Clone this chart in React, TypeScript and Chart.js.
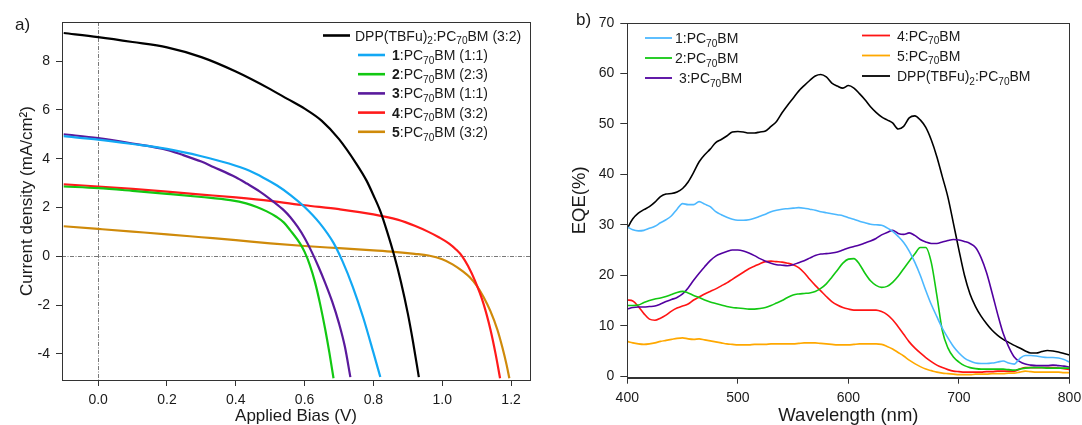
import React, { useEffect, useRef } from "react";
import { Chart, registerables } from "chart.js";

Chart.register(...registerables);

const FONT = '"Liberation Sans", Arial, Helvetica, sans-serif';
const INK = "#1a1a1a";
const FRAME = "#333333";

/* ---------- (a) current density vs applied bias ---------- */
const biasTicks = [0, 0.2, 0.4, 0.6, 0.8, 1.0, 1.2];
const currentTicks = [-4, -2, 0, 2, 4, 6, 8];

const dppBias = [-0.1, 0, 0.1, 0.2, 0.3, 0.4, 0.5, 0.55, 0.6, 0.65, 0.7, 0.75, 0.78, 0.8, 0.82, 0.84, 0.86, 0.88, 0.9, 0.915, 0.932];
const dppCurrent = [9.15, 8.98, 8.78, 8.56, 8.16, 7.57, 6.85, 6.45, 6.05, 5.55, 4.8, 3.8, 3.1, 2.5, 1.85, 1.0, 0.05, -1.05, -2.35, -3.5, -4.95];

const c1Bias = [-0.1, 0, 0.1, 0.2, 0.3, 0.38, 0.44, 0.48, 0.52, 0.56, 0.6, 0.645, 0.684, 0.71, 0.74, 0.77, 0.8, 0.82];
const c1Current = [4.92, 4.78, 4.6, 4.4, 4.1, 3.8, 3.5, 3.22, 2.9, 2.5, 2.02, 1.34, 0.55, -0.2, -1.25, -2.5, -3.95, -4.95];

const c2Bias = [-0.1, 0, 0.1, 0.2, 0.3, 0.384, 0.43, 0.461, 0.49, 0.519, 0.54, 0.558, 0.587, 0.6, 0.615, 0.63, 0.645, 0.66, 0.672, 0.684];
const c2Current = [2.86, 2.79, 2.68, 2.56, 2.43, 2.3, 2.17, 2.02, 1.84, 1.61, 1.38, 1.07, 0.52, 0.18, -0.35, -1.05, -1.95, -3.0, -3.95, -5.0];

const c3Bias = [-0.1, 0, 0.1, 0.2, 0.24, 0.3, 0.335, 0.4, 0.432, 0.47, 0.51, 0.54, 0.558, 0.58, 0.6, 0.62, 0.64, 0.66, 0.68, 0.7, 0.717, 0.733];
const c3Current = [5.0, 4.84, 4.62, 4.36, 4.18, 3.88, 3.66, 3.24, 2.98, 2.65, 2.23, 1.88, 1.61, 1.2, 0.75, 0.2, -0.42, -1.1, -1.85, -2.75, -3.7, -4.95];

const c4Bias = [-0.1, 0, 0.1, 0.2, 0.3, 0.4, 0.5, 0.6, 0.7, 0.8, 0.87, 0.92, 0.96, 0.99, 1.02, 1.04, 1.058, 1.075, 1.095, 1.12, 1.14, 1.155, 1.168];
const c4Current = [2.95, 2.86, 2.76, 2.65, 2.53, 2.41, 2.27, 2.09, 1.93, 1.72, 1.5, 1.25, 1.0, 0.78, 0.52, 0.28, 0.0, -0.4, -1.0, -1.95, -3.0, -4.0, -5.0];

const c5Bias = [-0.1, 0, 0.1, 0.2, 0.3, 0.4, 0.5, 0.6, 0.7, 0.8, 0.86, 0.92, 0.96, 1.0, 1.03, 1.06, 1.08, 1.1, 1.12, 1.14, 1.16, 1.175, 1.187, 1.195];
const c5Current = [1.23, 1.12, 1.01, 0.9, 0.78, 0.66, 0.53, 0.42, 0.33, 0.24, 0.18, 0.1, 0.03, -0.12, -0.33, -0.62, -0.86, -1.2, -1.67, -2.25, -3.0, -3.75, -4.45, -5.0];

const jvLabels = [
  "DPP(TBFu)_{2}:PC_{70}BM (3:2)",
  "**1**:PC_{70}BM (1:1)",
  "**2**:PC_{70}BM (2:3)",
  "**3**:PC_{70}BM (1:1)",
  "**4**:PC_{70}BM (3:2)",
  "**5**:PC_{70}BM (3:2)",
];
const jvBias = [dppBias, c1Bias, c2Bias, c3Bias, c4Bias, c5Bias];
const jvCurrent = [dppCurrent, c1Current, c2Current, c3Current, c4Current, c5Current];
const jvColors = ["#000000", "#12a8f4", "#12c812", "#5a1a9c", "#ff1a1a", "#cf8a0a"];

/* ---------- (b) external quantum efficiency ---------- */
const wavelengthTicks = [400, 500, 600, 700, 800];
const eqeTicks = [0, 10, 20, 30, 40, 50, 60, 70];

const wavelengths = [
  400, 405, 410, 415, 420, 425, 430, 435, 440, 445,
  450, 455, 460, 465, 470, 475, 480, 485, 490, 495,
  500, 505, 510, 515, 520, 525, 530, 535, 540, 545,
  550, 555, 560, 565, 570, 575, 580, 585, 590, 595,
  600, 605, 610, 615, 620, 625, 630, 635, 640, 645,
  650, 655, 660, 665, 670, 675, 680, 685, 690, 695,
  700, 705, 710, 715, 720, 725, 730, 735, 740, 745,
  750, 755, 760, 765, 770, 775, 780, 785, 790, 795,
  800,
];

const eqe1 = [
  29.6, 29.0, 28.8, 28.9, 29.3, 29.7, 30.4, 31.0, 31.8, 33.1,
  34.2, 34.0, 34.0, 34.6, 34.1, 33.6, 32.6, 32.0, 31.5, 31.1,
  30.9, 30.9, 31.0, 31.3, 31.7, 32.1, 32.6, 32.9, 33.1, 33.2,
  33.3, 33.4, 33.3, 33.1, 32.9, 32.6, 32.4, 32.2, 32.0, 31.8,
  31.4, 31.1, 30.7, 30.4, 30.1, 30.0, 29.9, 29.4, 28.7, 27.7,
  26.5, 24.8, 22.6, 20.0, 17.0, 14.2, 11.8, 9.5, 7.6, 5.9,
  4.6, 3.6, 3.0, 2.6, 2.5, 2.5, 2.6, 2.8, 3.0, 2.6,
  2.4, 3.5, 4.1, 4.1, 4.0, 3.8, 3.7, 3.7, 3.6, 3.3,
  2.8,
];
const eqe2 = [
  14.0, 14.0, 14.1, 14.6, 15.0, 15.3, 15.5, 15.8, 16.2, 16.6,
  16.8, 16.5, 16.0, 15.6, 15.1, 14.7, 14.4, 14.1, 13.8, 13.6,
  13.5, 13.4, 13.3, 13.3, 13.4, 13.6, 14.0, 14.5, 15.0, 15.6,
  16.1, 16.3, 16.4, 16.5, 16.8, 17.4, 18.3, 19.6, 21.0, 22.4,
  23.2, 23.3, 22.2, 20.4, 18.9, 18.0, 17.6, 17.8, 18.6, 19.8,
  21.3, 22.8, 24.2, 25.5, 25.5, 22.5, 16.0, 9.0, 5.6, 3.8,
  2.8, 2.1, 1.7, 1.5, 1.4, 1.4, 1.4, 1.4, 1.4, 1.3,
  1.2, 1.4, 1.6, 1.7, 1.7, 1.7, 1.6, 1.6, 1.6, 1.6,
  1.6,
];
const eqe3 = [
  13.3, 13.6, 13.7, 13.7, 13.8, 13.9, 14.3, 14.8, 15.2, 15.6,
  16.3, 17.5, 19.0, 20.4, 21.7, 22.9, 23.8, 24.3, 24.7, 25.0,
  25.0, 24.8, 24.4, 23.9, 23.3, 22.8, 22.4, 22.1, 22.0, 21.9,
  22.1, 22.5, 22.9, 23.4, 23.9, 24.2, 24.3, 24.4, 24.6, 25.0,
  25.4, 25.7, 26.0, 26.4, 26.8, 27.3, 28.0, 28.5, 28.9, 28.3,
  28.1, 28.4, 27.9, 27.1, 26.6, 26.3, 26.3, 26.6, 26.9, 27.1,
  27.0, 26.7, 26.3, 25.5, 23.5, 20.5, 16.5, 12.3, 8.5, 5.8,
  3.8, 2.9, 2.4, 2.2, 2.1, 2.1, 2.1, 2.2, 2.1, 2.0,
  1.8,
];
const eqe4 = [
  15.1, 14.9, 13.8, 12.4, 11.3, 11.1, 11.5, 12.1, 12.9, 13.5,
  13.9, 14.3, 15.1, 15.7, 16.3, 16.8, 17.3, 17.9, 18.5, 19.2,
  19.9, 20.6, 21.3, 21.8, 22.3, 22.7, 22.8, 22.7, 22.6, 22.4,
  22.1, 21.5, 20.5, 19.2, 18.0, 16.9, 15.8, 14.8, 14.1, 13.6,
  13.3, 13.1, 13.1, 13.1, 13.1, 13.1, 12.8, 12.2, 11.2, 9.8,
  8.3, 6.8, 5.6, 4.6, 3.7, 2.9, 2.2, 1.7, 1.3, 1.0,
  0.9, 0.8, 0.8, 0.8, 0.8, 0.9, 0.9, 1.0, 1.0, 1.0,
  1.0, 1.4, 1.7, 1.7, 1.7, 1.7, 1.7, 1.7, 1.6, 1.5,
  1.3,
];
const eqe5 = [
  6.9, 6.6, 6.4, 6.3, 6.4, 6.6, 6.9, 7.1, 7.3, 7.5,
  7.6, 7.4, 7.3, 7.4, 7.2, 7.0, 6.8, 6.6, 6.4, 6.3,
  6.2, 6.2, 6.2, 6.3, 6.3, 6.3, 6.4, 6.4, 6.4, 6.4,
  6.4, 6.5, 6.6, 6.6, 6.6, 6.5, 6.4, 6.3, 6.2, 6.2,
  6.2, 6.3, 6.4, 6.4, 6.4, 6.4, 6.3, 5.9, 5.4, 4.7,
  4.0, 3.2, 2.5, 1.9, 1.4, 1.1, 0.8, 0.6, 0.5, 0.4,
  0.3, 0.3, 0.3, 0.4, 0.4, 0.4, 0.5, 0.5, 0.5, 0.6,
  0.6, 0.8, 1.0, 0.9, 0.8, 0.8, 0.8, 0.8, 0.8, 0.7,
  0.7,
];
const eqeDpp = [
  29.3, 31.2, 32.3, 33.0, 33.6, 34.5, 35.6, 36.1, 36.2, 36.5,
  37.2, 38.5, 40.4, 42.5, 43.9, 45.0, 46.3, 46.9, 47.6, 48.4,
  48.5, 48.4, 48.2, 48.2, 48.4, 48.6, 49.5, 50.5, 52.2, 53.7,
  55.1, 56.5, 57.6, 58.6, 59.5, 59.8, 59.3, 58.1, 57.5, 57.1,
  57.6, 57.1, 56.0, 54.8, 53.4, 52.3, 51.4, 50.8, 50.2, 49.0,
  49.5, 51.2, 51.6, 50.8, 49.3, 46.8, 43.5, 39.5, 35.5, 30.3,
  25.0, 20.0, 16.3, 13.8, 11.9, 10.4, 9.1, 8.1, 7.3, 6.7,
  6.1, 5.6, 5.0, 4.6, 4.6, 4.9, 5.1, 5.0, 4.8, 4.5,
  4.2,
];

const eqeLabels = [
  "1:PC_{70}BM",
  "2:PC_{70}BM",
  " 3:PC_{70}BM",
  "4:PC_{70}BM",
  "5:PC_{70}BM",
  "DPP(TBFu)_{2}:PC_{70}BM",
];
const eqeSeries = [eqe1, eqe2, eqe3, eqe4, eqe5, eqeDpp];
const eqeColors = ["#4cb8ff", "#12c812", "#5200a0", "#ff1414", "#ffa800", "#000000"];

/* ---------- rich text helpers (bold runs and subscripts) ---------- */
type Run = { text: string; bold: boolean; sub: boolean };

function parseRich(s: string): Run[] {
  const runs: Run[] = [];
  const re = /\*\*([^*]+)\*\*|_\{([^}]*)\}|([^*_]+)/g;
  let m: RegExpExecArray | null;
  while ((m = re.exec(s))) {
    if (m[1] !== undefined) runs.push({ text: m[1], bold: true, sub: false });
    else if (m[2] !== undefined) runs.push({ text: m[2], bold: false, sub: true });
    else runs.push({ text: m[3], bold: false, sub: false });
  }
  return runs;
}

const plain = (s: string) => parseRich(s).map((r) => r.text).join("").trim();

function drawRich(ctx: CanvasRenderingContext2D, s: string, x: number, yMid: number, size: number) {
  let cx = x;
  const base = yMid + size * 0.36;
  ctx.textAlign = "left";
  ctx.textBaseline = "alphabetic";
  for (const r of parseRich(s)) {
    const fs = r.sub ? size * 0.72 : size;
    ctx.font = `${r.bold ? "bold " : ""}${fs}px ${FONT}`;
    ctx.fillText(r.text, cx, r.sub ? base + size * 0.27 : base);
    cx += ctx.measureText(r.text).width;
  }
}

type LegendRow = { x0: number; x1: number; tx: number; y: number };

function legendPlugin(id: string, labels: string[], rows: LegendRow[], lineWidth: number, size: number) {
  return {
    id,
    afterDraw(chart: any) {
      const ctx: CanvasRenderingContext2D = chart.ctx;
      ctx.save();
      chart.data.datasets.forEach((ds: any, i: number) => {
        const r = rows[i];
        ctx.strokeStyle = ds.borderColor;
        ctx.lineWidth = lineWidth;
        ctx.beginPath();
        ctx.moveTo(r.x0, r.y);
        ctx.lineTo(r.x1, r.y);
        ctx.stroke();
        ctx.fillStyle = INK;
        drawRich(ctx, labels[i], r.tx, r.y, size);
      });
      ctx.restore();
    },
  };
}

function framePlugin(id: string, panel: string, px: number, py: number) {
  return {
    id,
    afterDraw(chart: any) {
      const { ctx, chartArea: a } = chart;
      ctx.save();
      ctx.strokeStyle = FRAME;
      ctx.lineWidth = 1;
      ctx.strokeRect(Math.round(a.left) + 0.5, Math.round(a.top) + 0.5, Math.round(a.right - a.left), Math.round(a.bottom - a.top));
      ctx.fillStyle = INK;
      ctx.font = `17px ${FONT}`;
      ctx.textAlign = "left";
      ctx.textBaseline = "alphabetic";
      ctx.fillText(panel, px, py);
      ctx.restore();
    },
  };
}

// dash-dot guides through V = 0 and J = 0
const originGuides = {
  id: "originGuides",
  beforeDatasetsDraw(chart: any) {
    const { ctx, chartArea: a, scales } = chart;
    const x0 = Math.round(scales.x.getPixelForValue(0)) + 0.5;
    const y0 = Math.round(scales.y.getPixelForValue(0)) + 0.5;
    ctx.save();
    ctx.strokeStyle = "#555555";
    ctx.lineWidth = 0.8;
    ctx.setLineDash([4, 1.5, 1, 1.5]);
    ctx.beginPath();
    ctx.moveTo(x0, a.top);
    ctx.lineTo(x0, a.bottom);
    ctx.moveTo(a.left, y0);
    ctx.lineTo(a.right, y0);
    ctx.stroke();
    ctx.restore();
  },
};

function axis(extra: any, titleSize: number) {
  return {
    type: "linear",
    grid: { display: true, drawOnChartArea: false, drawTicks: true, color: FRAME, tickLength: 6, tickWidth: 1 },
    border: { display: true, color: FRAME, width: 1 },
    ...extra,
    ticks: { color: INK, font: { family: FONT, size: 14 }, ...(extra.ticks || {}) },
    title: { display: true, color: INK, font: { family: FONT, size: titleSize }, ...(extra.title || {}) },
  };
}

// fixed axis box sizes; edge tick labels are allowed to hang over the plot frame
const fixedHeight = (h: number) => (s: any) => {
  s.height = h;
  s.paddingLeft = 0;
  s.paddingRight = 0;
};
const fixedWidth = (w: number) => (s: any) => {
  s.width = w;
  s.paddingTop = 0;
  s.paddingBottom = 0;
};

function jvConfig(): any {
  return {
    type: "line",
    data: {
      datasets: jvBias.map((vs, i) => ({
        label: plain(jvLabels[i]),
        data: vs.map((v, k) => ({ x: v, y: jvCurrent[i][k] })),
        borderColor: jvColors[i],
        borderWidth: 2.2,
        pointRadius: 0,
        cubicInterpolationMode: "monotone",
        fill: false,
      })),
    },
    options: {
      animation: false,
      responsive: false,
      devicePixelRatio: 1,
      layout: { padding: { top: 22, right: 30, bottom: 0, left: 0 } },
      plugins: { legend: { display: false }, tooltip: { enabled: false } },
      scales: {
        x: axis({
          min: -0.105,
          max: 1.255,
          afterBuildTicks: (s: any) => { s.ticks = biasTicks.map((v) => ({ value: v })); },
          afterFit: fixedHeight(45),
          ticks: { padding: 6, callback: (v: any) => Number(v).toFixed(1) },
          title: { text: "Applied Bias (V)", padding: { top: 0, bottom: -2 } },
        }, 17),
        y: axis({
          min: -5.07,
          max: 9.6,
          afterBuildTicks: (s: any) => { s.ticks = currentTicks.map((v) => ({ value: v })); },
          afterFit: fixedWidth(62),
          ticks: { padding: 6, callback: (v: any) => String(v) },
          title: { text: "Current density (mA/cm²)", padding: { top: 17, bottom: 0 } },
        }, 17),
      },
    },
    plugins: [
      originGuides,
      framePlugin("jvFrame", "a)", 15, 30),
      legendPlugin(
        "jvLegend",
        jvLabels,
        jvLabels.map((_, i) =>
          i === 0
            ? { x0: 323, x1: 350, tx: 355, y: 35.5 }
            : { x0: 358, x1: 385, tx: 392, y: 55 + (i - 1) * 19.2 }
        ),
        2.6,
        14
      ),
    ],
  };
}

function eqeConfig(): any {
  return {
    type: "line",
    data: {
      datasets: eqeSeries.map((vals, i) => ({
        label: plain(eqeLabels[i]),
        data: wavelengths.map((w, k) => ({ x: w, y: vals[k] })),
        borderColor: eqeColors[i],
        borderWidth: 1.6,
        pointRadius: 0,
        cubicInterpolationMode: "monotone",
        fill: false,
      })),
    },
    options: {
      animation: false,
      responsive: false,
      devicePixelRatio: 1,
      layout: { padding: { top: 23, right: 12.5, bottom: 0, left: 0 } },
      plugins: { legend: { display: false }, tooltip: { enabled: false } },
      scales: {
        x: axis({
          min: 400,
          max: 800,
          afterBuildTicks: (s: any) => { s.ticks = wavelengthTicks.map((v) => ({ value: v })); },
          afterFit: fixedHeight(47.3),
          ticks: { padding: 6 },
          title: { text: "Wavelength (nm)", padding: { top: 0, bottom: -2 } },
        }, 18.5),
        y: axis({
          min: -0.3,
          max: 70,
          afterBuildTicks: (s: any) => { s.ticks = eqeTicks.map((v) => ({ value: v })); },
          afterFit: fixedWidth(67.3),
          grid: { display: true, drawOnChartArea: false, drawTicks: true, color: FRAME, tickLength: 7, tickWidth: 1 },
          ticks: { padding: 6 },
          title: { text: "EQE(%)", padding: { top: 9, bottom: 0 } },
        }, 18.5),
      },
    },
    plugins: [
      framePlugin("eqeFrame", "b)", 16, 24.5),
      legendPlugin(
        "eqeLegend",
        eqeLabels,
        [
          { x0: 85, x1: 112, tx: 115, y: 38 },
          { x0: 85, x1: 112, tx: 115, y: 58 },
          { x0: 85, x1: 112, tx: 115, y: 78 },
          { x0: 302, x1: 330, tx: 337, y: 35.5 },
          { x0: 302, x1: 330, tx: 337, y: 55.5 },
          { x0: 302, x1: 330, tx: 337, y: 76 },
        ],
        1.8,
        14
      ),
    ],
  };
}

export default function App() {
  const leftRef = useRef<HTMLCanvasElement>(null);
  const rightRef = useRef<HTMLCanvasElement>(null);

  useEffect(() => {
    const jv = new Chart(leftRef.current as HTMLCanvasElement, jvConfig());
    const eqe = new Chart(rightRef.current as HTMLCanvasElement, eqeConfig());
    return () => {
      jv.destroy();
      eqe.destroy();
    };
  }, []);

  return (
    <div style={{ position: "fixed", left: 0, top: 0, width: 1082, height: 425, background: "#ffffff", overflow: "hidden" }}>
      <canvas ref={leftRef} width={560} height={425} style={{ position: "absolute", left: 0, top: 0, width: 560, height: 425 }} />
      <canvas ref={rightRef} width={522} height={425} style={{ position: "absolute", left: 560, top: 0, width: 522, height: 425 }} />
    </div>
  );
}
